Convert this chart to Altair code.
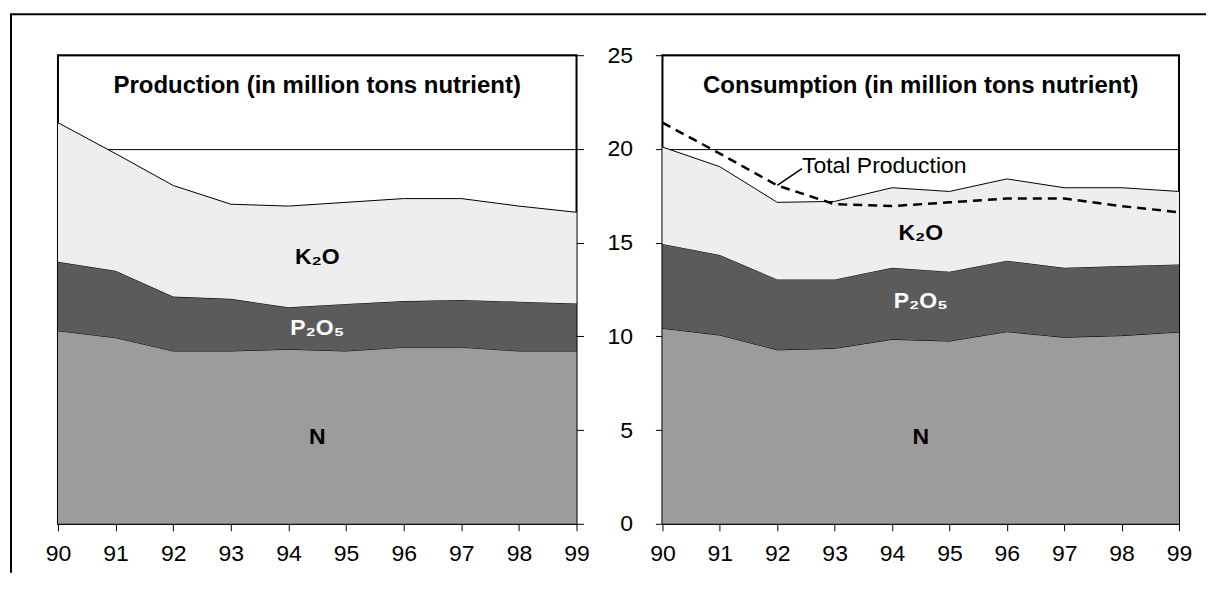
import altair as alt
import pandas as pd

FONT = "Liberation Sans"

years = [90, 91, 92, 93, 94, 95, 96, 97, 98, 99]
y_ticks = [0, 5, 10, 15, 20, 25]

# Production (million tons nutrient)
prod_n = [10.30, 9.93, 9.22, 9.22, 9.31, 9.22, 9.42, 9.42, 9.22, 9.22]
prod_p2o5 = [3.68, 3.57, 2.90, 2.78, 2.24, 2.51, 2.46, 2.52, 2.63, 2.53]
prod_k2o = [7.42, 6.25, 5.93, 5.05, 5.40, 5.42, 5.47, 5.41, 5.10, 4.87]

# Consumption (million tons nutrient)
cons_n = [10.43, 10.07, 9.28, 9.36, 9.84, 9.75, 10.25, 9.95, 10.04, 10.23]
cons_p2o5 = [4.50, 4.27, 3.76, 3.68, 3.82, 3.70, 3.79, 3.71, 3.71, 3.61]
cons_k2o = [5.17, 4.71, 4.11, 4.16, 4.27, 4.28, 4.36, 4.27, 4.18, 3.89]

titles = ["Production (in million tons nutrient)", "Consumption (in million tons nutrient)"]
series_labels = ["K\u2082O", "P\u2082O\u2085", "N"]


def stack_frame(n, p, k):
    return pd.DataFrame({
        "year": years,
        "base": [0] * len(years),
        "n_top": n,
        "p_top": [a + b for a, b in zip(n, p)],
        "k_top": [a + b + c for a, b, c in zip(n, p, k)],
    })


prod_df = stack_frame(prod_n, prod_p2o5, prod_k2o)
cons_df = stack_frame(cons_n, cons_p2o5, cons_k2o)

X_SCALE = alt.Scale(domain=[90, 99], nice=False, zero=False)
Y_SCALE = alt.Scale(domain=[0, 25], nice=False, zero=True)

X_AXIS = alt.Axis(values=years, format="d", title=None, grid=False, domain=False,
                  tickSize=7, tickColor="black", tickWidth=1, labelFontSize=23,
                  labelFont=FONT, labelColor="black", labelPadding=12, labelFlush=False)


def y_axis(side):
    if side == "right":
        return alt.Axis(orient="right", values=y_ticks, labels=False, title=None, domain=False,
                        tickSize=7, tickColor="black", tickWidth=1, grid=True,
                        gridColor="black", gridWidth=1, gridOpacity=1)
    return alt.Axis(orient="left", values=y_ticks, title=None, domain=False, tickSize=7,
                    tickColor="black", tickWidth=1, labelFontSize=23, labelFont=FONT,
                    labelColor="black", labelPadding=23, grid=True, gridColor="black",
                    gridWidth=1, gridOpacity=1)


def panel(df, side, width, title, extra):
    yax = y_axis(side)

    def X(f):
        return alt.X(f"{f}:Q", scale=X_SCALE, axis=X_AXIS)

    def Y(f):
        return alt.Y(f"{f}:Q", scale=Y_SCALE, axis=yax)

    base = alt.Chart(df)

    def area(top, bottom, color):
        return base.mark_area(color=color, opacity=1,
                              line={"color": "black", "strokeWidth": 1}).encode(
            x=X("year"), y=Y(top), y2=f"{bottom}:Q")

    layers = [
        area("n_top", "base", "#9c9c9c"),
        area("p_top", "n_top", "#5b5b5b"),
        area("k_top", "p_top", "#eeeeee"),
    ]

    lab = pd.DataFrame({"t": series_labels, "x": [94.5, 94.5, 94.5],
                        "y": extra["label_y"]})
    layers.append(alt.Chart(lab.iloc[[0, 2]]).mark_text(
        font=FONT, fontSize=23, fontWeight="bold", color="black").encode(
        x=X("x"), y=Y("y"), text="t:N"))
    layers.append(alt.Chart(lab.iloc[[1]]).mark_text(
        font=FONT, fontSize=23, fontWeight="bold", color="white").encode(
        x=X("x"), y=Y("y"), text="t:N"))

    tdf = pd.DataFrame({"t": [title], "x": [94.5], "y": [23.35]})
    layers.append(alt.Chart(tdf).mark_text(
        font=FONT, fontSize=24, fontWeight="bold", color="black").encode(
        x=X("x"), y=Y("y"), text="t:N"))

    for lay in extra.get("layers", []):
        layers.append(lay(X, Y))

    return alt.layer(*layers).properties(width=width, height=469)


one = pd.DataFrame({"k": [0]})


def frame_v(X, Y):
    return alt.Chart(one).mark_rule(color="black", strokeWidth=2).encode(
        x=alt.value(-47), y=alt.value(-41), y2=alt.value(518))


def frame_h(X, Y):
    return alt.Chart(one).mark_rule(color="black", strokeWidth=2).encode(
        x=alt.value(-48), x2=alt.value(1149), y=alt.value(-41))


def total_prod_line(X, Y):
    return alt.Chart(prod_df).mark_line(color="black", strokeWidth=2.5,
                                        strokeDash=[9, 6]).encode(
        x=X("year"), y=Y("k_top"))


leader = pd.DataFrame({"x": [92.0], "x2": [92.43], "y": [18.05], "y2": [18.95]})


def leader_line(X, Y):
    return alt.Chart(leader).mark_rule(color="black", strokeWidth=1.5).encode(
        x=X("x"), x2="x2:Q", y=Y("y"), y2="y2:Q")


tp = pd.DataFrame({"t": ["Total Production"], "x": [92.43], "y": [19.1]})


def tp_text(X, Y):
    return alt.Chart(tp).mark_text(font=FONT, fontSize=23, align="left",
                                   baseline="middle", color="black").encode(
        x=X("x"), y=Y("y"), text="t:N")


left = panel(prod_df, "right", 519, titles[0],
             {"label_y": [14.23, 10.45, 4.64], "layers": [frame_v, frame_h]})
right = panel(cons_df, "left", 517, titles[1],
              {"label_y": [15.5, 11.9, 4.64],
               "layers": [total_prod_line, leader_line, tp_text]})

chart = alt.hconcat(left, right, spacing=86, bounds="flush").properties(
    padding={"left": 0, "top": 4, "right": 0, "bottom": 0},
    background="white",
).configure_view(stroke="black", strokeWidth=2)

chart.save("out.html", embed_options={"renderer": "svg", "actions": False})
